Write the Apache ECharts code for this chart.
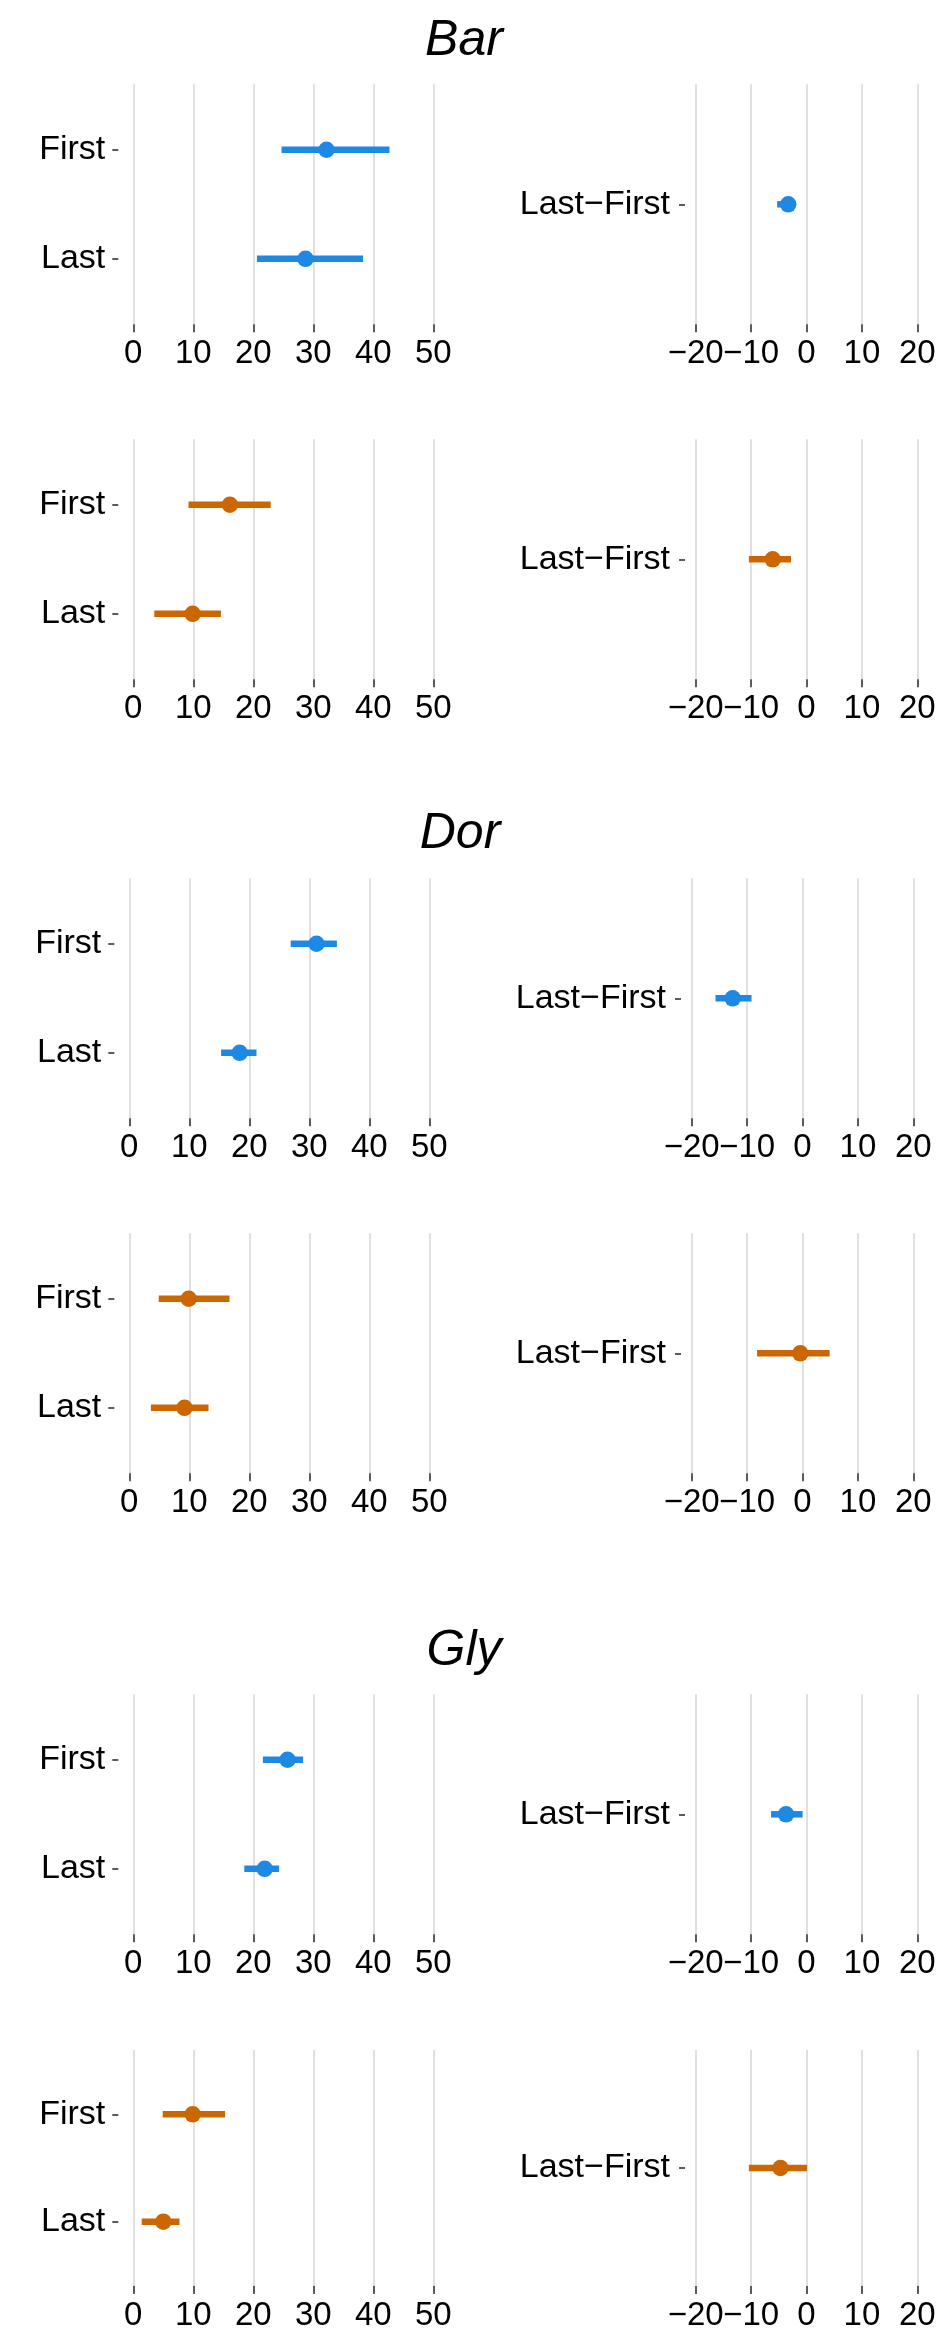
<!DOCTYPE html>
<html>
<head>
<meta charset="utf-8">
<script src="https://cdn.jsdelivr.net/npm/echarts@6/dist/echarts.min.js"></script>
<style>html,body{margin:0;padding:0;background:#fff}#c{width:943px;height:2332px}</style>
</head>
<body>
<div id="c"></div>
<script>
// ---------------- data ----------------
const sectionTitles = ['Bar', 'Dor', 'Gly'];
const groupCats = ['First', 'Last'];
const diffCats = ['Last\u2212First'];
const leftTicks = [0, 10, 20, 30, 40, 50];
const rightTicks = [-20, -10, 0, 10, 20];

// Bar
const barBlueMean = [32.2, 28.7];
const barBlueLo   = [24.7, 20.6];
const barBlueHi   = [42.7, 38.3];
const barBlueDiff = [-3.3, -5.3, -2.0];   // mean, lo, hi
const barOrMean = [16.1, 9.9];
const barOrLo   = [9.2, 3.5];
const barOrHi   = [22.9, 14.6];
const barOrDiff = [-6.1, -10.4, -2.8];

// Dor
const dorBlueMean = [31.2, 18.4];
const dorBlueLo   = [26.9, 15.3];
const dorBlueHi   = [34.6, 21.2];
const dorBlueDiff = [-12.6, -15.7, -9.2];
const dorOrMean = [9.9, 9.2];
const dorOrLo   = [4.9, 3.6];
const dorOrHi   = [16.7, 13.2];
const dorOrDiff = [-0.4, -8.2, 4.9];

// Gly
const glyBlueMean = [25.7, 21.9];
const glyBlueLo   = [21.6, 18.5];
const glyBlueHi   = [28.3, 24.3];
const glyBlueDiff = [-3.7, -6.4, -0.7];
const glyOrMean = [9.9, 5.0];
const glyOrLo   = [4.9, 1.4];
const glyOrHi   = [15.3, 7.7];
const glyOrDiff = [-4.7, -10.4, 0.1];

const BLUE = '#1E88E5';
const ORANGE = '#CC6600';
const FONT = 'Liberation Sans, Arial, Helvetica, sans-serif';

// ---------------- layout ----------------
const layout = [
  {titleY: 41,   blueTop: 84.3,   orTop: 439.3,  dx: 0,
   blue: [barBlueMean, barBlueLo, barBlueHi, barBlueDiff], or: [barOrMean, barOrLo, barOrHi, barOrDiff]},
  {titleY: 834,  blueTop: 878.3,  orTop: 1233.3, dx: -4,
   blue: [dorBlueMean, dorBlueLo, dorBlueHi, dorBlueDiff], or: [dorOrMean, dorOrLo, dorOrHi, dorOrDiff]},
  {titleY: 1651, blueTop: 1694.3, orTop: 2050,   dx: 0,
   blue: [glyBlueMean, glyBlueLo, glyBlueHi, glyBlueDiff], or: [glyOrMean, glyOrLo, glyOrHi, glyOrDiff]}
];

const option = {
  animation: false,
  backgroundColor: '#ffffff',
  grid: [], xAxis: [], yAxis: [], series: [], graphic: []
};

function fmtNum(v) { return v < 0 ? '\u2212' + Math.abs(v) : String(v); }

function makeX(gridIdx, ticks, vals) {
  return {
    gridIndex: gridIdx, type: 'value', position: 'bottom', offset: 0,
    min: ticks[0], max: ticks[ticks.length - 1], interval: ticks[1] - ticks[0],
    axisLine: {show: false, onZero: false},
    axisTick: {show: true, length: 8, customValues: vals, lineStyle: {color: '#333333', width: 1.6}},
    axisLabel: {margin: 13, fontSize: 33, color: '#000', fontFamily: FONT, formatter: fmtNum,
                customValues: vals, hideOverlap: false, showMinLabel: true, showMaxLabel: true},
    splitLine: {show: true, lineStyle: {color: '#D9D9D9', width: 1.6}}
  };
}

function addPanel(left, width, top, ticks, cats, yOffset, labelMargin, mean, lo, hi, color) {
  const gIdx = option.grid.length;
  option.grid.push({left: left, top: top, width: width, height: 240});
  const xIdx = option.xAxis.length;
  // ticks split over two overlapping axes so neighbouring labels never hide each other
  option.xAxis.push(makeX(gIdx, ticks, ticks.filter((t, i) => i % 2 === 0)));
  option.xAxis.push(makeX(gIdx, ticks, ticks.filter((t, i) => i % 2 === 1)));
  const pos = cats.map((c, i) => i + 1);
  const yIdx = option.yAxis.length;
  option.yAxis.push({
    gridIndex: gIdx, type: 'value', inverse: true, position: 'left',
    min: 0.4, max: cats.length + 0.6,
    offset: yOffset,
    axisLine: {show: false, onZero: false},
    splitLine: {show: false},
    axisTick: {show: true, length: 6, customValues: pos, lineStyle: {color: '#333333', width: 1.6}},
    axisLabel: {show: true, customValues: pos, margin: labelMargin, fontSize: 34, color: '#000',
                fontFamily: FONT, hideOverlap: false, formatter: v => cats[Math.round(v) - 1]}
  });
  const barData = cats.map((c, i) => [lo[i], hi[i], i + 1]);
  const ptData = cats.map((c, i) => [mean[i], i + 1]);
  option.series.push({
    type: 'custom', xAxisIndex: xIdx, yAxisIndex: yIdx,
    data: barData,
    encode: {x: [0, 1], y: 2},
    renderItem: function (params, api) {
      const a = api.coord([api.value(0), api.value(2)]);
      const b = api.coord([api.value(1), api.value(2)]);
      return {type: 'line', shape: {x1: a[0], y1: a[1], x2: b[0], y2: b[1]},
              style: {stroke: color, lineWidth: 6.5, lineCap: 'butt'}};
    },
    z: 2
  });
  option.series.push({
    type: 'scatter', xAxisIndex: xIdx, yAxisIndex: yIdx,
    data: ptData, symbol: 'circle', symbolSize: 16.5,
    itemStyle: {color: color, opacity: 1}, z: 3
  });
}

layout.forEach((L, s) => {
  option.graphic.push({
    type: 'text', x: 464 + L.dx, y: L.titleY,
    style: {text: sectionTitles[s], font: 'italic 50px ' + FONT, fill: '#000',
            textAlign: 'center', textVerticalAlign: 'middle'}
  });
  [[L.blueTop, L.blue, BLUE], [L.orTop, L.or, ORANGE]].forEach(([top, d, col]) => {
    addPanel(133.3 + L.dx, 300, top, leftTicks, groupCats, 15, 13, d[0], d[1], d[2], col);
    addPanel(695.7 + L.dx, 221.6, top, rightTicks, diffCats, 10.7, 15,
             [d[3][0]], [d[3][1]], [d[3][2]], col);
  });
});

const chart = echarts.init(document.getElementById('c'), null, {renderer: 'canvas', width: 943, height: 2332});
chart.setOption(option);
</script>
</body>
</html>
